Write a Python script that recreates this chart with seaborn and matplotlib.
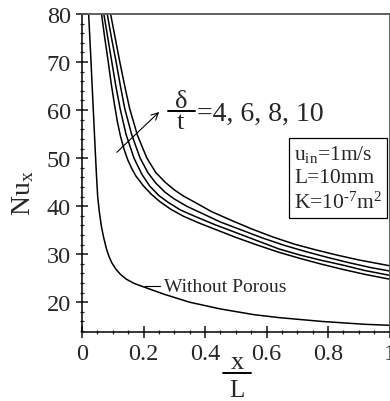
import seaborn as sns
import matplotlib.pyplot as plt
from matplotlib.lines import Line2D
from matplotlib.ticker import MultipleLocator, FormatStrFormatter

# Date
x_wo = [0.0216, 0.029, 0.036, 0.042, 0.047, 0.051, 0.056, 0.063, 0.071, 0.080, 0.088,
        0.097, 0.110, 0.125, 0.144, 0.17, 0.20, 0.27, 0.35, 0.45, 0.56, 0.64, 0.78, 0.92, 1.0]
nu_wo = [80, 70.5, 61, 53, 46.5, 42, 39, 35.8, 33.3, 31.0, 29.5,
         28.2, 26.9, 25.8, 24.8, 23.9, 23.2, 21.6, 20.0, 18.6, 17.4, 16.8, 16.0, 15.4, 15.2]

x4 = [0.0635, 0.074, 0.085, 0.095, 0.106, 0.115, 0.125, 0.137, 0.149, 0.162, 0.175, 0.20,
      0.225, 0.252, 0.29, 0.33, 0.38, 0.44, 0.50, 0.57, 0.64, 0.71, 0.78, 0.85, 0.92, 1.0]
nu4 = [80, 75, 70.2, 65.5, 61, 57.6, 54.6, 51.8, 49.6, 47.8, 46.3, 44.2,
       42.5, 41.0, 39.3, 37.9, 36.5, 35.0, 33.5, 31.9, 30.4, 29.1, 27.9, 26.8, 25.8, 24.8]

x6 = [0.071, 0.084, 0.097, 0.110, 0.124, 0.143, 0.169, 0.195, 0.22, 0.25, 0.28, 0.32,
      0.37, 0.43, 0.50, 0.57, 0.64, 0.71, 0.78, 0.85, 0.92, 1.0]
nu6 = [80, 75, 70, 65, 60.3, 55, 50, 46.6, 44.2, 42.2, 40.8, 39.2,
       37.8, 36.2, 34.5, 32.8, 31.1, 29.8, 28.7, 27.7, 26.6, 25.6]

x8 = [0.082, 0.096, 0.111, 0.125, 0.139, 0.162, 0.189, 0.215, 0.24, 0.27, 0.30, 0.34,
      0.39, 0.45, 0.52, 0.59, 0.66, 0.73, 0.80, 0.87, 0.94, 1.0]
nu8 = [80, 75, 70, 65, 60.3, 54.8, 50, 46.9, 44.8, 42.9, 41.5, 40.0,
       38.5, 36.7, 35.0, 33.3, 31.8, 30.5, 29.3, 28.2, 27.2, 26.5]

x10 = [0.093, 0.108, 0.123, 0.139, 0.155, 0.18, 0.211, 0.24, 0.27, 0.30, 0.33, 0.37,
       0.42, 0.48, 0.55, 0.62, 0.69, 0.76, 0.83, 0.90, 1.0]
nu10 = [80, 75, 70, 65, 60.3, 54.8, 50, 47.0, 45.0, 43.4, 42.1, 40.7,
        38.9, 37.2, 35.3, 33.6, 32.1, 30.9, 29.8, 28.8, 27.6]

y_ticks = [20, 30, 40, 50, 60, 70, 80]
x_ticks = [0, 0.2, 0.4, 0.6, 0.8, 1.0]

sns.set_style('ticks')
plt.rcParams['font.family'] = ['Liberation Serif', 'DejaVu Serif']
plt.rcParams['mathtext.fontset'] = 'custom'
plt.rcParams['mathtext.rm'] = 'Liberation Serif'
plt.rcParams['mathtext.it'] = 'Liberation Serif:italic'

fig = plt.figure(figsize=(3.9, 4.02), dpi=100)
ax = fig.add_axes([82 / 390, 1 - 333 / 402, 307.5 / 390, 318 / 402])

for xs, ys in [(x_wo, nu_wo), (x4, nu4), (x6, nu6), (x8, nu8), (x10, nu10)]:
    sns.lineplot(x=xs, y=ys, ax=ax, color='black', lw=1.1, estimator=None)

ax.set_xlim(0, 1.0)
ax.set_ylim(13.8, 80)
ax.set_xticks(x_ticks)
ax.set_yticks(y_ticks)
ax.xaxis.set_major_formatter(FormatStrFormatter('%g'))
ax.xaxis.set_minor_locator(MultipleLocator(0.05))
ax.yaxis.set_minor_locator(MultipleLocator(2))
ax.tick_params(which='major', direction='inout', length=8, width=1.2, labelsize=17.5,
               pad=4, top=False, right=False)
ax.tick_params(which='minor', direction='inout', length=3.5, width=0.9,
               top=False, right=False)
ax.tick_params(axis='x', pad=4)
for s in ['left', 'bottom']:
    ax.spines[s].set_linewidth(1.1)
    ax.spines[s].set_color('black')
for s in ['top', 'right']:
    ax.spines[s].set_linewidth(1.3)
    ax.spines[s].set_color('#555555')

ax.set_xlabel('')
ax.set_ylabel(r'Nu$_{\rm x}$', fontsize=20)
ax.yaxis.set_label_coords(-0.15, 0.44)

# eticheta x/L
fig.text(237 / 390, 1 - 369 / 402, 'x', fontsize=19, ha='center', va='baseline')
fig.add_artist(Line2D([223 / 390, 251 / 390], [1 - 374.3 / 402] * 2, lw=1.4, color='black'))
fig.text(237 / 390, 1 - 397.5 / 402, 'L', fontsize=18, ha='center', va='baseline')

# delta/t = 4, 6, 8, 10
fig.text(181 / 390, 1 - 108.5 / 402, 'δ', fontsize=19, ha='center', va='baseline')
fig.add_artist(Line2D([168 / 390, 195 / 390], [1 - 111.5 / 402] * 2, lw=1.4, color='black'))
fig.text(180 / 390, 1 - 129 / 402, 't', fontsize=19, ha='center', va='baseline')
fig.text(197 / 390, 1 - 120.5 / 402, '=4, 6, 8, 10', fontsize=20, ha='left', va='baseline')

ax.annotate('', xy=(0.251, 59.6), xytext=(0.113, 51.2),
            arrowprops=dict(arrowstyle='->,head_length=0.5,head_width=0.25',
                            lw=0.8, color='black', shrinkA=0, shrinkB=0))

ax.annotate('Without Porous', xy=(0.205, 23.27), xytext=(0.266, 23.3),
            fontsize=14, ha='left', va='center',
            arrowprops=dict(arrowstyle='-', lw=0.8, color='black', shrinkA=0, shrinkB=0))

ax.text(0.69, 45.9, 'u$_{\\rm in}$=1m/s\nL=10mm\nK=10$^{\\rm \u2010 7}$m$^{\\rm 2}$',
        fontsize=15.5, ha='left', va='center', linespacing=1.3,
        bbox=dict(boxstyle='square,pad=0.22', fc='white', ec='black', lw=0.9))

fig.savefig('out.png', dpi=100)
